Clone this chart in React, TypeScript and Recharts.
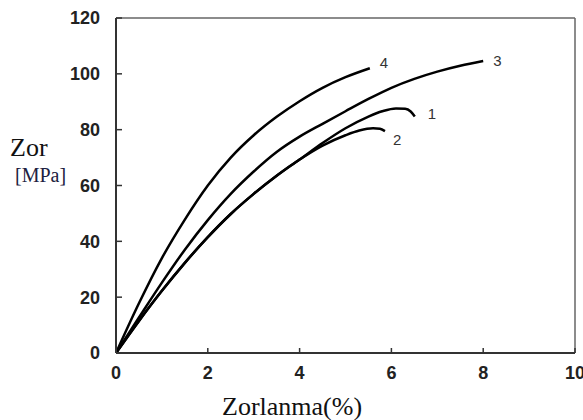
import React from 'react';
import { LineChart, Line, XAxis, YAxis, ReferenceLine } from 'recharts';

const xTicks = [0, 2, 4, 6, 8, 10];
const yTicks = [0, 20, 40, 60, 80, 100, 120];

const strain1 = [0, 0.5, 1, 1.5, 2, 2.5, 3, 3.5, 4, 4.5, 5, 5.5, 5.8, 6.1, 6.3, 6.42, 6.51];
const stress1 = [0, 11.5, 22.3, 32.3, 41.5, 49.8, 57, 63.5, 69.3, 75.2, 80.5, 84.7, 86.6, 87.6, 87.5, 86.5, 84.7];

const strain2 = [0, 0.5, 1, 1.5, 2, 2.5, 3, 3.5, 4, 4.5, 5, 5.3, 5.6, 5.75, 5.86];
const stress2 = [0, 11.5, 22.3, 32.3, 41.5, 49.8, 57, 63.5, 69.3, 74.3, 78, 79.7, 80.5, 80.3, 79.5];

const strain3 = [0, 0.5, 1, 1.5, 2, 2.5, 3, 3.5, 4, 4.5, 5, 5.5, 6, 6.5, 7, 7.5, 8];
const stress3 = [0, 12.7, 25.2, 37, 47.6, 57, 65, 72, 77.5, 82.1, 86.6, 91, 95, 98.2, 100.8, 102.9, 104.6];

const strain4 = [0, 0.5, 1, 1.5, 2, 2.5, 3, 3.5, 4, 4.5, 5, 5.53];
const stress4 = [0, 17.8, 34, 47.8, 60, 70, 78, 84.6, 90.2, 95, 98.8, 102];

const toData = (xs: number[], ys: number[]) => xs.map((x, i) => ({ x, y: ys[i] }));
const data1 = toData(strain1, stress1);
const data2 = toData(strain2, stress2);
const data3 = toData(strain3, stress3);
const data4 = toData(strain4, stress4);

const endLabel = (name: string, lastIndex: number, dx: number, dy: number) => (props: any) => {
  if (props.index !== lastIndex) return <g />;
  return (
    <text
      x={props.x + dx}
      y={props.y + dy}
      fontFamily="Liberation Sans, Arial, sans-serif"
      fontSize={15}
      fill="#333"
      textAnchor="start"
      dominantBaseline="middle"
    >
      {name}
    </text>
  );
};

const tickFont = {
  fontFamily: 'Liberation Sans, Arial, sans-serif',
  fontSize: 18,
  fontWeight: 700,
  fill: '#222',
};

const serif = 'Liberation Serif, Times New Roman, serif';

export default function App() {
  return (
    <div style={{ position: 'absolute', left: 0, top: 0, width: 583, height: 420, background: '#fff' }}>
      <LineChart width={583} height={420} margin={{ top: 18, right: 8, bottom: 27, left: 0 }}>
        <XAxis
          type="number"
          dataKey="x"
          domain={[0, 10]}
          ticks={xTicks}
          interval={0}
          height={40}
          tickSize={-5}
          tickMargin={18}
          tick={tickFont}
          axisLine={{ stroke: '#333', strokeWidth: 2 }}
          tickLine={{ stroke: '#333', strokeWidth: 1.5 }}
          allowDataOverflow
        />
        <YAxis
          type="number"
          dataKey="y"
          domain={[0, 120]}
          ticks={yTicks}
          interval={0}
          width={116}
          tickSize={-6}
          tickMargin={22}
          tick={tickFont}
          axisLine={{ stroke: '#333', strokeWidth: 2 }}
          tickLine={{ stroke: '#333', strokeWidth: 1.5 }}
          allowDataOverflow
        />
        <ReferenceLine y={120} stroke="#666" strokeWidth={1.5} />
        <ReferenceLine x={10} stroke="#666" strokeWidth={1.5} />
        <Line data={data4} dataKey="y" type="monotone" stroke="#000" strokeWidth={2.5} dot={false} isAnimationActive={false} label={endLabel('4', data4.length - 1, 10, -4)} />
        <Line data={data3} dataKey="y" type="monotone" stroke="#000" strokeWidth={2.5} dot={false} isAnimationActive={false} label={endLabel('3', data3.length - 1, 10, 1)} />
        <Line data={data1} dataKey="y" type="monotone" stroke="#000" strokeWidth={2.5} dot={false} isAnimationActive={false} label={endLabel('1', data1.length - 1, 13, -1.5)} />
        <Line data={data2} dataKey="y" type="monotone" stroke="#000" strokeWidth={2.5} dot={false} isAnimationActive={false} label={endLabel('2', data2.length - 1, 8, 10)} />
      </LineChart>
      <svg width={583} height={420} style={{ position: 'absolute', left: 0, top: 0, pointerEvents: 'none' }}>
        <text x={10} y={156} fontFamily={serif} fontSize={26} fill="#111">Zor</text>
        <text x={15} y={182} fontFamily={serif} fontSize={20} fill="#202040">[MPa]</text>
        <text x={222} y={415} fontFamily={serif} fontSize={26} fill="#111">Zorlanma(%)</text>
      </svg>
    </div>
  );
}
